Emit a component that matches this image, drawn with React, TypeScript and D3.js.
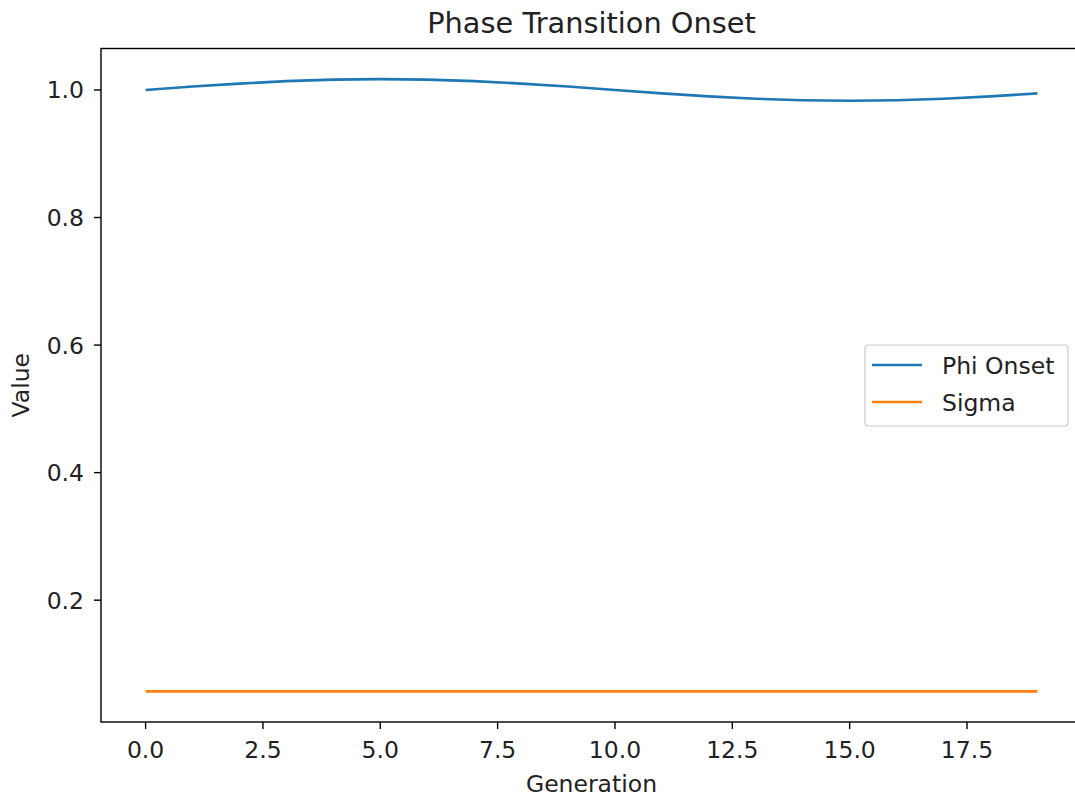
import React from "react";
import * as d3 from "d3";

const generations = [0, 1, 2, 3, 4, 5, 6, 7, 8, 9, 10, 11, 12, 13, 14, 15, 16, 17, 18, 19];
const phiOnset = [1.0, 1.0053, 1.01, 1.0138, 1.0162, 1.017, 1.0162, 1.0138, 1.01, 1.0053, 1.0, 0.9947, 0.99, 0.9862, 0.9838, 0.983, 0.9838, 0.9862, 0.99, 0.9947];
const sigma = [0.057, 0.057, 0.057, 0.057, 0.057, 0.057, 0.057, 0.057, 0.057, 0.057, 0.057, 0.057, 0.057, 0.057, 0.057, 0.057, 0.057, 0.057, 0.057, 0.057];
const xTicks = [0, 2.5, 5, 7.5, 10, 12.5, 15, 17.5];
const yTicks = [0.2, 0.4, 0.6, 0.8, 1.0];
const seriesNames = ["Phi Onset", "Sigma"];
const colors = ["#1f77b4", "#ff7f0e"];

const W = 1075;
const H = 798;
const left = 101;
const right = 1082;
const top = 48.5;
const bottom = 722;
const font = "DejaVu Sans, sans-serif";
const fs = 23.5;

export default function App() {
  const xMin = d3.min(generations)!;
  const xMax = d3.max(generations)!;
  const xPad = (xMax - xMin) * 0.05;
  const allY = [...phiOnset, ...sigma];
  const yMin = d3.min(allY)!;
  const yMax = d3.max(allY)!;
  const yPad = (yMax - yMin) * 0.05;
  const x = d3.scaleLinear().domain([xMin - xPad, xMax + xPad]).range([left, right]);
  const y = d3.scaleLinear().domain([yMin - yPad, yMax + yPad]).range([bottom, top]);
  const line = d3
    .line<number>()
    .x((_, i) => x(generations[i]))
    .y((d) => y(d))
    .curve(d3.curveLinear);
  const series = [phiOnset, sigma];
  const legX = 865;
  const legY = 345;
  return (
    <svg width={W} height={H} style={{ display: "block", position: "absolute", left: 0, top: 0 }} fontFamily={font}>
      <rect width={W} height={H} fill="#fff" />
      {series.map((s, i) => (
        <path key={i} d={line(s) || ""} fill="none" stroke={colors[i]} strokeWidth={2.6} strokeLinecap="butt" />
      ))}
      <rect x={left} y={top} width={right - left} height={bottom - top} fill="none" stroke="#000" strokeWidth={1.4} />
      {xTicks.map((t) => (
        <g key={t} transform={`translate(${x(t)},${bottom})`}>
          <line y2={7} stroke="#000" strokeWidth={1.4} />
          <text y={36} textAnchor="middle" fontSize={fs} fill="#222">
            {t.toFixed(1)}
          </text>
        </g>
      ))}
      {yTicks.map((t) => (
        <g key={t} transform={`translate(${left},${y(t)})`}>
          <line x2={-7} stroke="#000" strokeWidth={1.4} />
          <text x={-17} y={8.5} textAnchor="end" fontSize={fs} fill="#222">
            {t.toFixed(1)}
          </text>
        </g>
      ))}
      <text x={(left + right) / 2} y={33} textAnchor="middle" fontSize={28.8} fill="#222">
        Phase Transition Onset
      </text>
      <text x={(left + right) / 2} y={792} textAnchor="middle" fontSize={fs} fill="#222">
        Generation
      </text>
      <text transform={`translate(29,${(top + bottom) / 2}) rotate(-90)`} textAnchor="middle" fontSize={fs} fill="#222">
        Value
      </text>
      <g>
        <rect x={legX} y={legY} width={203} height={81} rx={3} fill="#fff" fillOpacity={0.8} stroke="#ccc" strokeWidth={1.2} />
        {seriesNames.map((n, i) => (
          <g key={n} transform={`translate(${legX},${legY + 20 + i * 37})`}>
            <line x1={7} x2={57} stroke={colors[i]} strokeWidth={2.6} />
            <text x={77} y={8.5} fontSize={fs} fill="#222">
              {n}
            </text>
          </g>
        ))}
      </g>
    </svg>
  );
}
